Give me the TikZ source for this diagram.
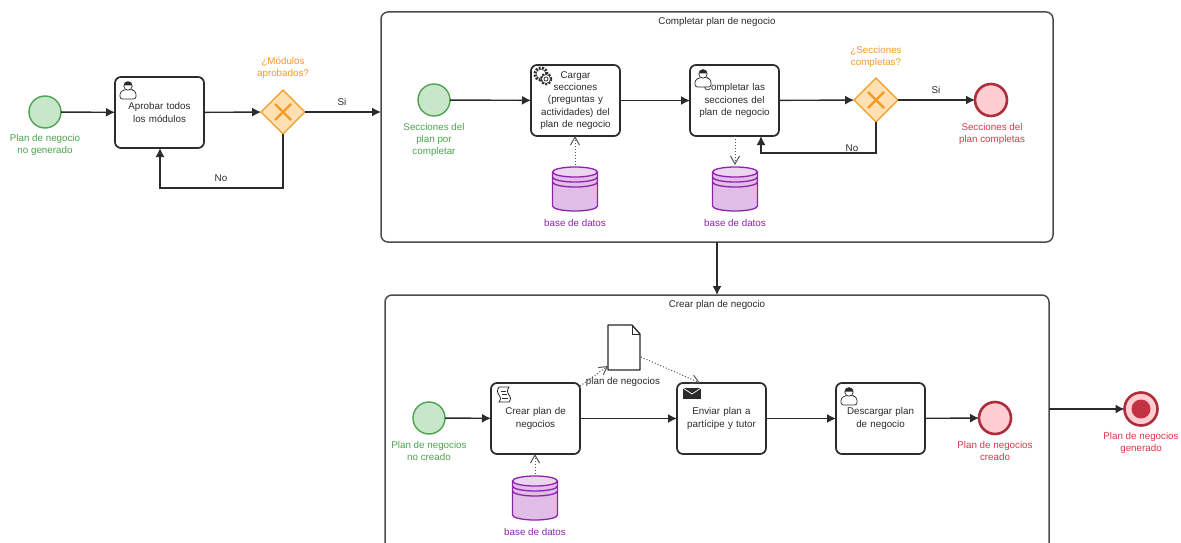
\documentclass[tikz,border=0pt]{standalone}
\usepackage{fontspec}
\setmainfont{Liberation Sans}
\usetikzlibrary{arrows.meta,shapes.geometric,calc}
\definecolor{gfill}{HTML}{C8E6C9}\definecolor{gline}{HTML}{4CA350}
\definecolor{rfill}{HTML}{FFCDD2}\definecolor{rline}{HTML}{D8384A}
\definecolor{ofill}{HTML}{FFE0B2}\definecolor{oline}{HTML}{F59A23}
\definecolor{pfill}{HTML}{E1BEE7}\definecolor{pline}{HTML}{8E24AA}
\definecolor{ink}{HTML}{2B2B2B}
\tikzset{
  x=1pt,y=-1pt,
  every node/.style={font=\fontsize{9.8}{12.4}\selectfont,text=ink,align=center,outer sep=0pt},
  taskbox/.style={draw=ink,line width=1.7pt,rounded corners=6pt,fill=white,minimum width=89pt,minimum height=71pt,inner sep=2pt,text width=85pt},
  subproc/.style={draw=ink!85,line width=1.5pt,rounded corners=7pt,fill=white},
  startev/.style={circle,draw=gline,fill=gfill,line width=1.4pt,minimum size=32pt,inner sep=0pt},
  endev/.style={circle,draw=rline!80!black,fill=rfill,line width=2.6pt,minimum size=32pt,inner sep=0pt},
  gatewaybox/.style={diamond,aspect=1,draw=oline,fill=ofill,line width=1.4pt,minimum size=44pt,inner sep=0pt},
  invisible/.style={inner sep=0pt,draw=none},
  flow/.style={draw=ink,line width=1.4pt,-{Latex[length=9pt,width=9pt]}},
  assoc/.style={draw=ink!80,line width=1pt,dotted,-{Straight Barb[length=8pt,width=9pt,line width=1pt]}},
  glabel/.style={text=gline},
  rlabel/.style={text=rline},
  olabel/.style={text=oline},
  plabel/.style={text=pline},
  flabel/.style={text=ink},
  icon/.style={draw=ink,line width=.7pt,fill=white}
}
% user icon; #1,#2 = top-left of the task
\newcommand{\usericon}[2]{
  \begin{scope}[shift={(#1,#2)}]
    \draw[icon,rounded corners=2.5pt] (5,22) -- (5,15) -- (10,12.5) -- (17,12.5) -- (21,15) -- (21,22) -- cycle;
    \draw[icon] (13,9) circle (4.2pt);
    \fill[ink] (8.8,8.5) arc[start angle=180,end angle=0,radius=4.2pt] -- cycle;
  \end{scope}
}
\newcommand{\dbstore}[3]{ % name, cx, cy
  \node[invisible,minimum width=45pt,minimum height=44pt] (#1) at (#2,#3) {};
  \begin{scope}[shift={(#2,#3)}]
    \draw[draw=pline,fill=pfill,line width=1.3pt] (-22.5,-17) -- (-22.5,17) arc[x radius=22.5pt,y radius=5pt,start angle=180,end angle=360] -- (22.5,-17);
    \draw[draw=pline,fill=pfill!65,line width=1.3pt] (0,-17) ellipse [x radius=22.5pt,y radius=5pt];
    \draw[draw=pline,line width=1.3pt] (-22.5,-12) arc[x radius=22.5pt,y radius=5pt,start angle=180,end angle=360];
    \draw[draw=pline,line width=1.3pt] (-22.5,-7) arc[x radius=22.5pt,y radius=5pt,start angle=180,end angle=360];
  \end{scope}
}
\begin{document}
\begin{tikzpicture}
\useasboundingbox (0,0) rectangle (1181,543);
\fill[white] (0,0) rectangle (1181,543);

% sub-processes
\node[subproc,minimum width=672pt,minimum height=230pt,anchor=north west] (sub1) at (381,12) {};
\node at (717,22) {Completar plan de negocio};
\begin{scope}
  \clip (0,0) rectangle (1181,543);
  \node[subproc,minimum width=664pt,minimum height=256pt,anchor=north west] (sub2) at (385,295) {};
\end{scope}
\node at (717,305) {Crear plan de negocio};

% top-left process
\node[startev] (s1) at (45,112) {};
\node[glabel] at (45,145) {Plan de negocio\\no generado};
\node[taskbox] (t1) at (159.5,112.5) {Aprobar todos\\los módulos};
\usericon{115}{77}
\node[gatewaybox] (g1) at (283,112) {};
\node[olabel] at (283,68) {¿Módulos\\aprobados?};
\draw[oline,line width=2.2pt] (275,104) -- (291,120) (291,104) -- (275,120);
\coordinate (t1b) at (160,148);
\coordinate (loop1) at (160,188);
\draw[flow] (s1) -- (t1);
\draw[flow] (t1) -- (g1);
\draw[flow] (g1) -- (g1 -| sub1.west);
\node[flabel] at (342,102) {Si};
\draw[flow] (g1.south) |- (loop1) -- (t1b);
\node[flabel] at (221,178) {No};

% Completar plan de negocio
\node[startev] (s2) at (434,100) {};
\node[glabel] at (434,140) {Secciones del\\plan por\\completar};
\node[taskbox] (t2) at (575.5,100.5) {Cargar\\secciones\\(preguntas y\\actividades) del\\plan de negocio};
\begin{scope}[shift={(541,74)}]
  \draw[icon,line width=2pt,dash pattern=on 2pt off 1.5pt] (0,0) circle (6.5pt);
  \draw[icon] (0,0) circle (5pt);
  \draw[icon,line width=1.6pt,dash pattern=on 2pt off 1.5pt] (5,5) circle (5.5pt);
  \draw[icon] (5,5) circle (4.5pt);
  \draw[icon] (5,5) circle (2pt);
\end{scope}
\node[taskbox] (t3) at (734.5,100.5) {Completar las\\secciones del\\plan de negocio};
\usericon{690}{65}
\node[gatewaybox] (g2) at (876,100) {};
\node[olabel] at (876,57) {¿Secciones\\completas?};
\draw[oline,line width=2.2pt] (868,92) -- (884,108) (884,92) -- (868,108);
\node[endev] (e2) at (991,100) {};
\node[rlabel] at (992,134) {Secciones del\\plan completas};
\dbstore{db1}{575}{189}
\node[plabel] at (575,223) {base de datos};
\dbstore{db2}{735}{189}
\node[plabel] at (735,223) {base de datos};
\coordinate (t3b) at (761,136);
\coordinate (loop2) at (761,153);
\coordinate (t3d) at (735,136);
\coordinate (db2t) at (735,165);
\coordinate (t2d) at (575,136);
\coordinate (db1t) at (575,165);
\draw[flow] (s2) -- (t2);
\draw[flow] (t2) -- (t3);
\draw[flow] (t3) -- (g2);
\draw[flow] (g2) -- (e2);
\node[flabel] at (936,90) {Si};
\draw[flow] (g2.south) |- (loop2) -- (t3b);
\node[flabel] at (852,148) {No};
\draw[assoc] (db1t) -- (t2d);
\draw[assoc] (t3d) -- (db2t);

% between sub-processes
\coordinate (s1b) at (717,242);
\coordinate (s2t) at (717,295);
\draw[flow] (s1b) -- (s2t);

% Crear plan de negocio
\node[startev] (s3) at (429,418) {};
\node[glabel] at (429,451) {Plan de negocios\\no creado};
\node[taskbox] (t4) at (535.5,418.5) {Crear plan de\\negocios};
\begin{scope}[shift={(491,383)}]
  \draw[icon,line width=.8pt] (8,4) -- (18,4) .. controls (16,7) and (16,9) .. (18,12) .. controls (20,15) and (20,16) .. (18,19) -- (8,19) .. controls (10,16) and (10,15) .. (8,12) .. controls (6,9) and (6,7) .. (8,4) -- cycle;
  \draw[ink,line width=.7pt] (9.5,8) -- (15,8) (10.5,11.5) -- (16,11.5) (11,15) -- (16.5,15);
\end{scope}
\node[taskbox] (t5) at (721.5,418.5) {Enviar plan a\\partícipe y tutor};
\begin{scope}[shift={(677,383)}]
  \fill[ink] (6,5) rectangle (24,16);
  \draw[white,line width=.7pt] (6,5) -- (15,11) -- (24,5);
\end{scope}
\node[taskbox] (t6) at (880.5,418.5) {Descargar plan\\de negocio};
\usericon{836}{383}
\node[endev] (e3) at (995,418) {};
\node[rlabel] at (995,451) {Plan de negocios\\creado};
\dbstore{db3}{535}{498}
\node[plabel] at (535,532) {base de datos};
\node[invisible,minimum width=32pt,minimum height=45pt] (doc) at (624,347.5) {};
\draw[draw=ink,fill=white,line width=1.3pt,line join=round] (608,325) -- (632,325) -- (640,334) -- (640,370) -- (608,370) -- cycle;
\draw[draw=ink,line width=.9pt] (632,325) -- (632,334) -- (640,334);
\node (docl) at (623,382) {plan de negocios};
\coordinate (t4d) at (535,454);
\coordinate (db3t) at (535,474);
\coordinate (t4tr) at (580,386);
\coordinate (docbl) at (608,366);
\coordinate (docr) at (641,357);
\coordinate (t5t) at (700,383);
\draw[flow] (s3) -- (t4);
\draw[flow] (t4) -- (t5);
\draw[flow] (t5) -- (t6);
\draw[flow] (t6) -- (e3);
\draw[assoc] (db3t) -- (t4d);
\draw[assoc] (t4tr) -- (docbl);
\draw[assoc] (docr) -- (t5t);

% final event
\node[endev,minimum size=33pt] (e4) at (1141,409) {};
\fill[rline!90!black] (e4.center) circle (9.5pt);
\node[rlabel] at (1141,443) {Plan de negocios\\generado};
\draw[flow] (e4 -| sub2.east) -- (e4);
\end{tikzpicture}
\end{document}
